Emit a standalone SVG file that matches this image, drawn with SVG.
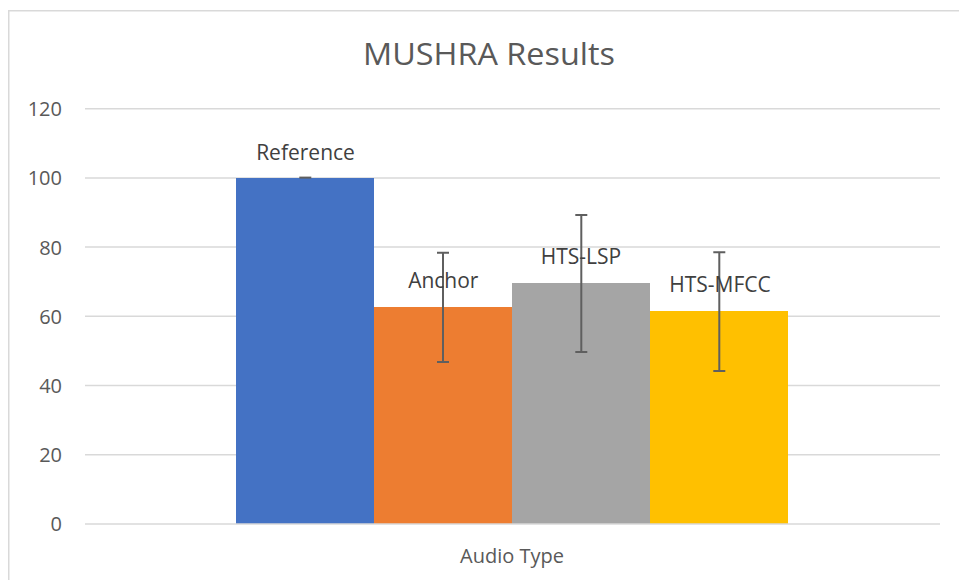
<svg xmlns="http://www.w3.org/2000/svg" width="959" height="580" viewBox="0 0 959 580">
  <style>
    .grid { stroke: #d9d9d9; stroke-width: 1.5; }
    .axis { font-family: "Open Sans", "Liberation Sans", sans-serif; font-size: 20px; fill: #595959; }
    .lbl { font-family: "Open Sans", "Liberation Sans", sans-serif; font-size: 21px; fill: #404040; text-anchor: middle; }
    .err { stroke: #5f5f5f; stroke-width: 2; fill: none; }
  </style>
  <rect x="0" y="0" width="959" height="580" fill="#ffffff"/>
  <rect x="8.75" y="10.75" width="1000" height="1000" fill="none" stroke="#d9d9d9" stroke-width="1.5"/>
  <text x="489" y="65.3" text-anchor="middle" font-family="'Open Sans', 'Liberation Sans', sans-serif" font-size="31.5" fill="#595959" textLength="252" lengthAdjust="spacingAndGlyphs">MUSHRA Results</text>
  <g id="gridlines">
    <line class="grid" x1="85" y1="108.7" x2="940" y2="108.7"/>
    <line class="grid" x1="85" y1="177.9" x2="940" y2="177.9"/>
    <line class="grid" x1="85" y1="247.1" x2="940" y2="247.1"/>
    <line class="grid" x1="85" y1="316.3" x2="940" y2="316.3"/>
    <line class="grid" x1="85" y1="385.5" x2="940" y2="385.5"/>
    <line class="grid" x1="85" y1="454.7" x2="940" y2="454.7"/>
  </g>
  <g id="yaxis" class="axis" text-anchor="end">
    <text x="62" y="116.2">120</text>
    <text x="62" y="185.4">100</text>
    <text x="62" y="254.6">80</text>
    <text x="62" y="323.8">60</text>
    <text x="62" y="393">40</text>
    <text x="62" y="462.2">20</text>
    <text x="62" y="531.4">0</text>
  </g>
  <g id="bar-reference">
    <rect x="236" y="178" width="138" height="346" fill="#4472c4"/>
  </g>
  <g id="bar-anchor">
    <rect x="374" y="307" width="138" height="217" fill="#ed7d31"/>
  </g>
  <g id="bar-hts-lsp">
    <rect x="512" y="283" width="138" height="241" fill="#a5a5a5"/>
  </g>
  <g id="bar-hts-mfcc">
    <rect x="650" y="311" width="138" height="213" fill="#ffc000"/>
  </g>
  <line class="grid" x1="85" y1="524" x2="940" y2="524"/>
  <g id="errorbars">
    <line class="err" x1="299.3" y1="177.6" x2="311.3" y2="177.6"/>
    <path class="err" d="M443 252.7 V362 M437 252.7 H449 M437 362 H449"/>
    <path class="err" d="M581.3 215 V352 M575.3 215 H587.3 M575.3 352 H587.3"/>
    <path class="err" d="M719.3 252.3 V371 M713.3 252.3 H725.3 M713.3 371 H725.3"/>
  </g>
  <g id="datalabels">
    <text class="lbl" x="305.5" y="160">Reference</text>
    <text class="lbl" x="443.3" y="288.3">Anchor</text>
    <text class="lbl" x="581" y="264.3">HTS-LSP</text>
    <text class="lbl" x="720" y="292">HTS-MFCC</text>
  </g>
  <text class="axis" x="512" y="562.5" text-anchor="middle" font-size="21">Audio Type</text>
</svg>
